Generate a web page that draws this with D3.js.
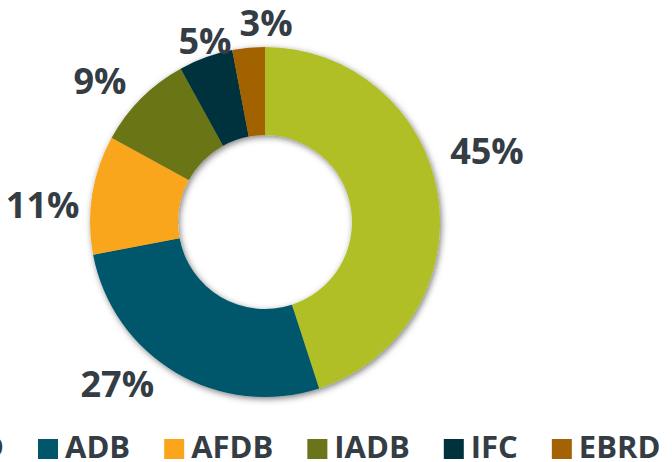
<!DOCTYPE html>
<html>
<head>
<meta charset="utf-8">
<script src="https://cdn.jsdelivr.net/npm/d3@7/dist/d3.min.js"></script>
<style>
  html, body { margin: 0; padding: 0; background: #ffffff; }
  svg { display: block; }
  text { font-family: "Open Sans", "Noto Sans", sans-serif; font-weight: 700; fill: #343c44; }
</style>
</head>
<body>
<svg id="chart" width="672" height="462"></svg>
<script>
// ---- data ----
const categories = ["IBRD", "ADB", "AFDB", "IADB", "IFC", "EBRD"];
const shares = [45, 27, 11, 9, 5, 3];
const valueLabels = ["45%", "27%", "11%", "9%", "5%", "3%"];
const colors = ["#b0bf27", "#02566a", "#f9a61c", "#6b7419", "#00323d", "#a36203"];

// ---- layout (not data) ----
const W = 672, H = 462;
const cx = 265, cy = 222, rOuter = 175, rInner = 87;
// manual label placement relative to each slice's mid-angle: [angle shift (deg), radius]
const labelPlacement = [[-8.7, 233], [11.8, 219], [-4.6, 223], [-4.5, 217], [1.5, 191], [5.7, 199]];

const svg = d3.select("#chart");
const defs = svg.append("defs");
const f = defs.append("filter").attr("id", "shadow")
  .attr("x", "-20%").attr("y", "-20%").attr("width", "140%").attr("height", "140%");
f.append("feDropShadow").attr("dx", 1.5).attr("dy", 2).attr("stdDeviation", 3)
  .attr("flood-color", "#000").attr("flood-opacity", 0.5);

const color = d3.scaleOrdinal().domain(categories).range(colors);
const data = categories.map((c, i) => ({ cat: c, v: shares[i], label: valueLabels[i] }));
const pie = d3.pie().value(d => d.v).sort(null);
const arcs = pie(data);
const arc = d3.arc().innerRadius(rInner).outerRadius(rOuter);

const g = svg.append("g").attr("transform", `translate(${cx},${cy})`);
g.append("g").attr("filter", "url(#shadow)")
  .selectAll("path").data(arcs).join("path")
  .attr("d", arc)
  .attr("fill", d => color(d.data.cat));

// labels
g.selectAll("text.lbl").data(arcs).join("text")
  .attr("class", "lbl")
  .attr("text-anchor", "middle")
  .attr("font-size", 36)
  .attr("transform", (d, i) => {
    const mid = (d.startAngle + d.endAngle) / 2 + labelPlacement[i][0] * Math.PI / 180;
    const r = labelPlacement[i][1];
    const x = r * Math.sin(mid), y = -r * Math.cos(mid) + 13;
    return `translate(${x},${y})`;
  })
  .text(d => d.data.label);

// legend
const legend = svg.append("g");
const items = legend.selectAll("g").data(categories).join("g");
items.append("rect").attr("width", 20).attr("height", 20).attr("y", 439)
  .attr("fill", d => color(d));
items.append("text").attr("x", 27).attr("y", 458).attr("font-size", 31).text(d => d);
const gap = 34;
let x = 0;
const xs = [];
items.each(function () {
  const tw = d3.select(this).select("text").node().getComputedTextLength();
  xs.push(x);
  x += 27 + tw + gap;
});
// anchor second item's swatch (ADB) where the reference has it
const start = 38 - xs[1];
items.attr("transform", (d, i) => `translate(${start + xs[i]},0)`);
</script>
</body>
</html>
